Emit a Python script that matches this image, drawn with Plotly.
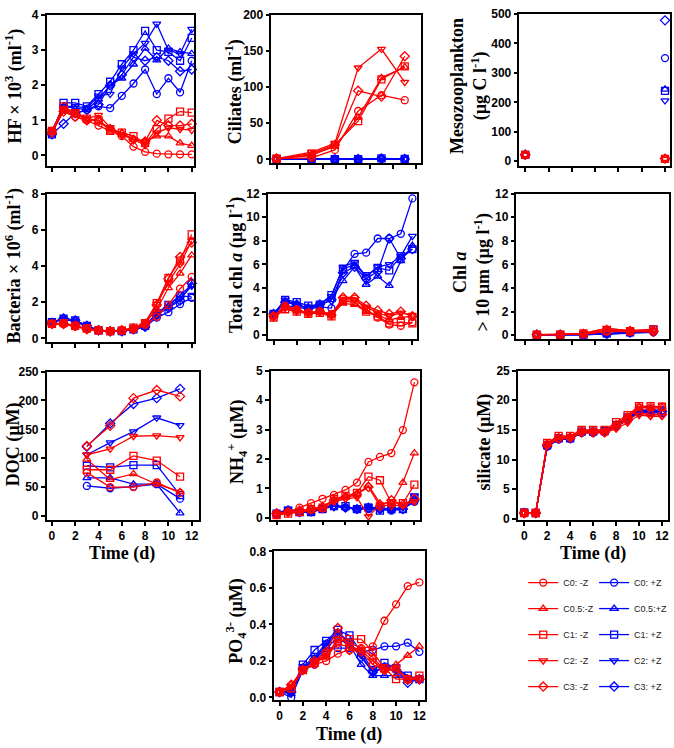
import plotly.graph_objects as go

# ---------------- data ----------------
TREATMENTS = ["C0", "C0.5", "C1", "C2", "C3"]
NAMES_MINUS = ["C0: -Z", "C0.5:-Z", "C1: -Z", "C2: -Z", "C3: -Z"]
NAMES_PLUS = ["C0: +Z", "C0.5:+Z", "C1: +Z", "C2: +Z", "C3: +Z"]
SYMBOLS = ["circle-open", "triangle-up-open", "square-open", "triangle-down-open", "diamond-open"]

DAYS = list(range(13))
CILIATE_DAYS = [0, 3, 5, 7, 9, 11]
MESO_DAYS = [0, 12]
CHL10_DAYS = [1, 3, 5, 7, 9, 11]
DOC_DAYS = [3, 5, 7, 9, 11]
X_TICKS = [0, 2, 4, 6, 8, 10, 12]

HF_MINUS = [
    [0.70, 1.30, 1.10, 1.00, 0.85, 0.70, 0.55, 0.25, 0.10, 0.05, 0.03, 0.03, 0.03],
    [0.65, 1.30, 1.20, 1.00, 1.00, 0.75, 0.65, 0.45, 0.40, 0.55, 0.55, 0.35, 0.28],
    [0.70, 1.40, 1.20, 1.05, 1.00, 0.70, 0.65, 0.55, 0.35, 0.75, 1.05, 1.25, 1.22],
    [0.70, 1.30, 1.25, 1.05, 1.15, 0.80, 0.60, 0.45, 0.30, 0.65, 0.78, 0.75, 0.72],
    [0.65, 1.25, 1.10, 1.00, 1.00, 0.75, 0.60, 0.45, 0.40, 1.00, 0.85, 0.85, 0.90],
]
HF_PLUS = [
    [0.65, 1.30, 1.20, 1.30, 1.40, 1.35, 1.70, 2.05, 2.45, 1.75, 2.20, 1.80, 2.70],
    [0.65, 1.40, 1.35, 1.30, 1.60, 2.00, 2.20, 2.60, 3.05, 2.72, 3.05, 2.95, 2.90],
    [0.60, 1.50, 1.50, 1.40, 1.75, 2.10, 2.60, 3.00, 3.55, 3.00, 2.95, 2.70, 3.35],
    [0.70, 1.40, 1.40, 1.35, 1.70, 1.75, 2.50, 2.90, 3.20, 3.75, 3.00, 2.90, 3.60],
    [0.60, 0.90, 1.20, 1.30, 1.45, 2.00, 2.30, 2.80, 2.70, 2.80, 2.70, 2.40, 2.45],
]

CIL_MINUS = [
    [1, 2, 13, 67, 89, 82],
    [1, 6, 18, 58, 113, 128],
    [1, 8, 20, 53, 111, 129],
    [1, 10, 22, 127, 153, 107],
    [1, 5, 20, 95, 87, 143],
]
CIL_PLUS = [
    [0.5, 0.3, 0.2, 0.3, 1.0, 0.4],
    [0.4, 0.2, 0.2, 0.2, 0.8, 0.3],
    [0.5, 0.3, 0.3, 0.3, 1.2, 0.5],
    [0.3, 0.2, 0.2, 0.2, 0.9, 0.3],
    [0.4, 0.3, 0.2, 0.3, 1.0, 0.4],
]

MESO_MINUS = [[22, 8], [22, 9], [22, 8], [22, 7], [22, 9]]
MESO_PLUS = [[22, 350], [22, 244], [22, 239], [22, 206], [22, 478]]

BACT_MINUS = [
    [0.80, 0.80, 0.65, 0.55, 0.45, 0.40, 0.45, 0.50, 0.75, 1.20, 1.85, 2.75, 3.40],
    [0.80, 0.80, 0.70, 0.50, 0.45, 0.40, 0.45, 0.55, 0.85, 1.60, 2.80, 3.60, 4.60],
    [0.80, 0.85, 0.70, 0.55, 0.45, 0.40, 0.45, 0.60, 0.85, 1.95, 3.35, 4.30, 5.75],
    [0.80, 0.85, 0.70, 0.50, 0.45, 0.40, 0.45, 0.55, 0.90, 1.90, 3.10, 4.10, 5.40],
    [0.80, 0.80, 0.70, 0.50, 0.45, 0.40, 0.45, 0.55, 0.80, 1.85, 3.30, 4.50, 5.30],
]
BACT_PLUS = [
    [0.90, 1.05, 0.95, 0.65, 0.45, 0.40, 0.40, 0.50, 0.65, 1.15, 1.45, 1.90, 2.25],
    [0.90, 1.10, 1.00, 0.70, 0.45, 0.40, 0.40, 0.55, 0.70, 1.35, 1.80, 2.40, 2.95],
    [0.90, 1.10, 1.00, 0.70, 0.45, 0.40, 0.40, 0.50, 0.70, 1.40, 1.85, 2.35, 2.30],
    [0.90, 1.05, 0.95, 0.65, 0.45, 0.40, 0.45, 0.50, 0.65, 1.30, 1.75, 2.20, 2.90],
    [0.85, 1.10, 1.00, 0.70, 0.45, 0.40, 0.40, 0.50, 0.65, 1.30, 1.70, 2.10, 3.05],
]

TCHL_MINUS = [
    [1.6, 2.5, 2.2, 1.9, 2.0, 1.8, 3.1, 3.1, 2.2, 1.5, 0.9, 0.8, 1.1],
    [1.6, 2.4, 2.1, 1.9, 2.0, 1.7, 2.7, 2.6, 2.0, 1.7, 1.3, 1.5, 1.6],
    [1.5, 2.2, 2.0, 1.8, 1.9, 1.6, 2.9, 2.8, 2.0, 1.6, 1.0, 1.1, 1.0],
    [1.6, 2.3, 2.1, 1.9, 2.0, 1.7, 3.0, 3.0, 2.4, 1.9, 1.6, 1.9, 1.7],
    [1.6, 2.4, 2.1, 1.9, 2.0, 1.7, 3.2, 3.2, 2.5, 2.1, 1.8, 2.0, 1.6],
]
TCHL_PLUS = [
    [1.7, 2.5, 2.4, 2.2, 2.4, 2.3, 5.5, 6.9, 7.0, 8.2, 8.2, 8.6, 11.6],
    [1.8, 2.8, 2.6, 2.3, 2.5, 3.0, 4.6, 5.8, 4.3, 5.0, 4.2, 6.3, 7.6],
    [1.8, 3.0, 2.8, 2.5, 2.6, 3.4, 5.6, 6.0, 5.0, 5.7, 5.5, 6.7, 7.3],
    [1.8, 3.0, 2.6, 2.3, 2.6, 3.3, 5.8, 6.2, 5.0, 5.8, 6.0, 6.7, 8.4],
    [1.8, 2.8, 2.6, 2.3, 2.6, 3.0, 5.3, 5.8, 4.8, 5.4, 8.2, 6.5, 7.3],
]

CHL10_MINUS = [
    [0.05, 0.05, 0.10, 0.30, 0.30, 0.30],
    [0.05, 0.05, 0.15, 0.55, 0.40, 0.50],
    [0.05, 0.05, 0.15, 0.40, 0.35, 0.50],
    [0.05, 0.05, 0.15, 0.60, 0.35, 0.40],
    [0.05, 0.05, 0.10, 0.35, 0.35, 0.30],
]
CHL10_PLUS = [
    [0.03, 0.03, 0.05, 0.10, 0.20, 0.25],
    [0.03, 0.03, 0.05, 0.10, 0.25, 0.45],
    [0.03, 0.03, 0.05, 0.15, 0.25, 0.50],
    [0.03, 0.03, 0.05, 0.10, 0.20, 0.40],
    [0.03, 0.03, 0.05, 0.12, 0.22, 0.35],
]

DOC_MINUS = [
    [75, 50, 50, 58, 40],
    [98, 63, 73, 55, 42],
    [80, 80, 104, 96, 68],
    [106, 116, 138, 139, 136],
    [121, 156, 204, 218, 207],
]
DOC_PLUS = [
    [52, 48, 51, 55, 30],
    [66, 66, 55, 55, 5],
    [87, 84, 88, 88, 36],
    [106, 127, 146, 170, 157],
    [120, 160, 194, 204, 220],
]

NH4_MINUS = [
    [0.15, 0.20, 0.35, 0.50, 0.65, 0.78, 0.95, 1.20, 1.90, 2.07, 2.20, 2.98, 4.60],
    [0.15, 0.20, 0.25, 0.30, 0.40, 0.60, 0.70, 0.80, 1.10, 0.50, 0.50, 1.20, 2.20],
    [0.10, 0.15, 0.20, 0.30, 0.35, 0.65, 0.75, 0.85, 1.40, 1.28, 0.50, 0.50, 1.13],
    [0.10, 0.20, 0.20, 0.25, 0.30, 0.55, 0.65, 0.70, 0.05, 0.45, 0.40, 0.45, 0.55],
    [0.15, 0.20, 0.25, 0.30, 0.35, 0.60, 0.70, 0.80, 1.05, 0.40, 0.60, 0.45, 0.65],
]
NH4_PLUS = [
    [0.15, 0.25, 0.20, 0.20, 0.35, 0.40, 0.35, 0.30, 0.30, 0.30, 0.25, 0.30, 0.55],
    [0.15, 0.25, 0.20, 0.20, 0.30, 0.45, 0.35, 0.30, 0.35, 0.35, 0.30, 0.35, 0.65],
    [0.15, 0.25, 0.20, 0.20, 0.30, 0.40, 0.40, 0.30, 0.35, 0.25, 0.30, 0.30, 0.70],
    [0.15, 0.30, 0.20, 0.20, 0.35, 0.40, 0.35, 0.30, 0.40, 0.30, 0.30, 0.35, 0.75],
    [0.15, 0.25, 0.20, 0.25, 0.35, 0.40, 0.35, 0.30, 0.35, 0.30, 0.30, 0.30, 0.60],
]

SIL_MINUS = [
    [1.0, 1.0, 12.5, 13.6, 13.7, 14.7, 14.7, 14.6, 15.6, 17.0, 18.8, 18.8, 18.9],
    [1.0, 1.0, 12.7, 13.8, 13.9, 14.9, 14.9, 14.9, 16.0, 17.3, 18.9, 18.6, 18.8],
    [1.0, 1.0, 12.8, 14.0, 14.0, 15.0, 15.0, 15.0, 16.3, 17.5, 19.0, 19.0, 18.9],
    [1.0, 1.0, 12.4, 13.5, 13.6, 14.5, 14.5, 14.5, 15.2, 16.2, 17.5, 17.3, 17.3],
    [1.0, 1.0, 12.5, 13.6, 13.7, 14.6, 14.6, 14.6, 15.5, 16.6, 17.8, 17.6, 17.6],
]
SIL_PLUS = [
    [1.0, 1.0, 12.2, 13.4, 13.5, 14.5, 14.5, 14.6, 15.5, 16.7, 17.9, 18.0, 17.8],
    [1.0, 1.0, 12.3, 13.5, 13.6, 14.6, 14.6, 14.7, 15.6, 16.9, 18.1, 18.2, 18.0],
    [1.1, 1.0, 12.4, 13.6, 13.6, 14.7, 14.7, 14.8, 15.8, 17.1, 18.3, 18.4, 18.3],
    [1.0, 1.0, 12.2, 13.4, 13.5, 14.5, 14.6, 14.6, 15.5, 16.8, 18.0, 18.1, 17.9],
    [1.0, 1.0, 12.3, 13.5, 13.6, 14.6, 14.6, 14.7, 15.7, 17.0, 18.2, 18.3, 18.1],
]

PO4_MINUS = [
    [0.03, 0.05, 0.15, 0.18, 0.20, 0.24, 0.26, 0.27, 0.28, 0.42, 0.51, 0.61, 0.63],
    [0.03, 0.07, 0.15, 0.19, 0.22, 0.32, 0.30, 0.27, 0.22, 0.15, 0.18, 0.23, 0.28],
    [0.03, 0.05, 0.15, 0.19, 0.24, 0.31, 0.32, 0.32, 0.25, 0.16, 0.10, 0.10, 0.12],
    [0.03, 0.06, 0.15, 0.19, 0.23, 0.29, 0.28, 0.26, 0.20, 0.15, 0.16, 0.10, 0.10],
    [0.03, 0.07, 0.15, 0.20, 0.25, 0.38, 0.26, 0.25, 0.18, 0.15, 0.15, 0.10, 0.10],
]
PO4_PLUS = [
    [0.03, 0.00, 0.15, 0.18, 0.27, 0.27, 0.27, 0.25, 0.26, 0.28, 0.28, 0.30, 0.25],
    [0.03, 0.02, 0.16, 0.20, 0.28, 0.32, 0.29, 0.18, 0.12, 0.12, 0.12, 0.10, 0.10],
    [0.03, 0.04, 0.18, 0.26, 0.31, 0.37, 0.34, 0.25, 0.15, 0.19, 0.16, 0.12, 0.10],
    [0.03, 0.03, 0.17, 0.22, 0.30, 0.36, 0.30, 0.23, 0.14, 0.17, 0.17, 0.09, 0.10],
    [0.03, 0.03, 0.16, 0.21, 0.29, 0.35, 0.30, 0.22, 0.14, 0.16, 0.15, 0.08, 0.10],
]

# ---------------- layout helpers ----------------
W, H = 674, 748
RED, BLUE = "#FF0000", "#0000FF"
TICKFONT = dict(family="Liberation Sans, Arial, sans-serif", size=12, color="black", weight="bold")
TITLEFONT = dict(family="Liberation Serif, Times New Roman, serif", size=18, color="black", weight="bold")

# name, days, minus, plus, (px day0, px day12), (px y0, value top, px top), y low, dtick, xlabels, xlo, xhi, fmt, mode
PANELS = [
    ("HF", DAYS, HF_MINUS, HF_PLUS, (52, 192), (151, 4, 8.3), -0.31, 1, False, -0.45, 12.2, None, "lines+markers"),
    ("CIL", CILIATE_DAYS, CIL_MINUS, CIL_PLUS, (277, 417), (155, 200, 8.3), -5.5, 50, False, -0.45, 12.4, None, "lines+markers"),
    ("MESO", MESO_DAYS, MESO_MINUS, MESO_PLUS, (526, 666), (157, 500, 7), -17, 100, False, -0.5, 12.4, None, "markers"),
    ("BACT", DAYS, BACT_MINUS, BACT_PLUS, (52, 192), (337.3, 8, 190), -0.2, 2, False, -0.45, 12.2, None, "lines+markers"),
    ("TCHL", DAYS, TCHL_MINUS, TCHL_PLUS, (274, 413), (334, 12, 190), -0.36, 2, False, -0.5, 12.4, None, "lines+markers"),
    ("CHL10", CHL10_DAYS, CHL10_MINUS, CHL10_PLUS, (526, 666), (334, 12, 190), -0.36, 2, False, -0.75, 12.3, None, "lines+markers"),
    ("DOC", DOC_DAYS, DOC_MINUS, DOC_PLUS, (52, 192), (518, 250, 371), -7, 50, True, -0.45, 12.6, None, "lines+markers"),
    ("NH4", DAYS, NH4_MINUS, NH4_PLUS, (277, 415), (520, 5, 370), -0.06, 1, False, -0.5, 12.5, None, "lines+markers"),
    ("SIL", DAYS, SIL_MINUS, SIL_PLUS, (525, 663), (521, 25, 370), -0.2, 5, True, -0.55, 12.5, None, "lines+markers"),
    ("PO4", DAYS, PO4_MINUS, PO4_PLUS, (280, 420), (702.7, 0.8, 554), -0.013, 0.2, True, -0.45, 12.5, ".1f", "lines+markers"),
]

fig = go.Figure()
layout = dict(
    width=W, height=H, margin=dict(l=0, r=0, t=0, b=0),
    plot_bgcolor="white", paper_bgcolor="white", showlegend=True,
)

for i, (name, days, minus, plus, (p0, p12), (py0, ytop, pytop), ylo, dtick, xlabels, xlo, xhi, fmt, mode) in enumerate(PANELS, start=1):
    sx = (p12 - p0) / 12.0
    left, right = p0 + xlo * sx, p0 + xhi * sx
    sy = (py0 - pytop) / ytop
    top, bottom = pytop, py0 - ylo * sy
    xa = "x" if i == 1 else f"x{i}"
    ya = "y" if i == 1 else f"y{i}"
    layout[f"xaxis{i}"] = dict(
        domain=[left / W, right / W], range=[xlo, xhi], anchor=ya,
        tickvals=X_TICKS, showticklabels=xlabels, ticks="outside", ticklen=4, tickwidth=1.5,
        tickcolor="black", showline=True, linewidth=1.5, linecolor="black", mirror=True,
        showgrid=False, zeroline=False, tickfont=TICKFONT,
    )
    yax = dict(
        domain=[1 - bottom / H, 1 - top / H], range=[ylo, ytop], anchor=xa,
        tick0=0, dtick=dtick, ticks="outside", ticklen=4, tickwidth=1.5, tickcolor="black",
        showline=True, linewidth=1.5, linecolor="black", mirror=True,
        showgrid=False, zeroline=False, tickfont=TICKFONT,
    )
    if fmt:
        yax["tickformat"] = fmt
    layout[f"yaxis{i}"] = yax

    for group, color, names, legend in ((plus, BLUE, NAMES_PLUS, "legend2"), (minus, RED, NAMES_MINUS, "legend")):
        for k, vals in enumerate(group):
            fig.add_trace(go.Scatter(
                x=days, y=vals, xaxis=xa, yaxis=ya, mode=mode,
                name=names[k], legendgroup=names[k], legend=legend, showlegend=(i == 1),
                line=dict(color=color, width=1.3),
                marker=dict(symbol=SYMBOLS[k], size=7, color=color, line=dict(width=1.3, color=color)),
                cliponaxis=False,
            ))

LEGFONT = dict(family="Liberation Sans, Arial, sans-serif", size=9, color="#222")
layout["legend"] = dict(
    x=524 / W, y=1 - 571 / H, xanchor="left", yanchor="top", tracegroupgap=7,
    font=LEGFONT, bgcolor="rgba(0,0,0,0)", itemwidth=30,
)
layout["legend2"] = dict(
    x=595 / W, y=1 - 571 / H, xanchor="left", yanchor="top", tracegroupgap=7,
    font=LEGFONT, bgcolor="rgba(0,0,0,0)", itemwidth=30,
)

YTITLES = [
    ("HF × 10<sup>3</sup> (ml<sup>-1</sup>)", 14, 80),
    ("Ciliates (ml<sup>-1</sup>)", 234, 86),
    ("Mesozooplankton<br>(µg C l<sup>-1</sup>)", 469, 80),
    ("Bacteria × 10<sup>6</sup> (ml<sup>-1</sup>)", 14, 263),
    ("Total chl <i>a</i> (µg l<sup>-1</sup>)", 236, 263),
    ("Chl <i>a</i><br>> 10 µm (µg l<sup>-1</sup>)", 473, 270),
    ("DOC (µM)", 13, 445),
    ("NH<sub>4</sub><sup>+</sup> (µM)", 237, 443),
    ("silicate (µM)", 485, 443),
    ("PO<sub>4</sub><sup>3-</sup> (µM)", 236, 625),
]
XTITLES = [("Time (d)", 122, 556), ("Time (d)", 594, 556), ("Time (d)", 350, 740)]

annotations = []
for text, px, py in YTITLES:
    annotations.append(dict(text=text, x=px / W, y=1 - py / H, xref="paper", yref="paper",
                            xanchor="center", yanchor="middle", textangle=-90, showarrow=False, font=TITLEFONT))
for text, px, py in XTITLES:
    annotations.append(dict(text=text, x=px / W, y=1 - py / H, xref="paper", yref="paper",
                            xanchor="center", yanchor="middle", showarrow=False, font=TITLEFONT))
layout["annotations"] = annotations

fig.update_layout(**layout)
fig.write_html("out.html", config={"displayModeBar": False},
               post_script="document.body.style.margin='0px';")
